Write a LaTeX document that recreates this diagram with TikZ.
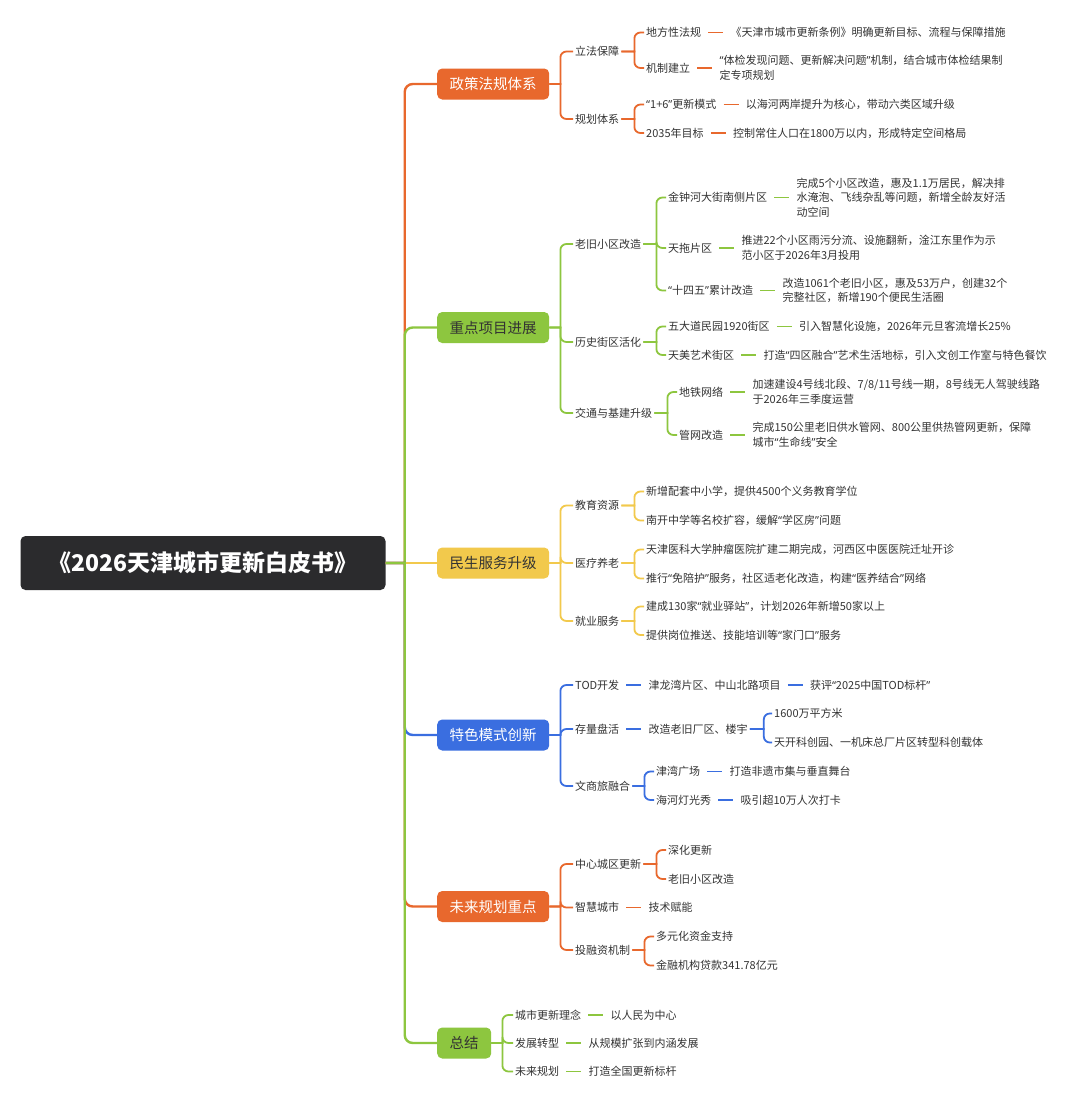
\documentclass[tikz,border=0pt]{standalone}
\usepackage{fontspec}
\setmainfont{Noto Sans CJK SC}
\newfontfamily\qfont{Noto Sans}
\usepackage{xcolor}
\usetikzlibrary{positioning}

\definecolor{rootdark}{HTML}{2B2B2D}
\definecolor{orangeC}{HTML}{E8682D}
\definecolor{greenC}{HTML}{8DC63F}
\definecolor{yellowC}{HTML}{F2C94C}
\definecolor{blueC}{HTML}{3A6EE0}
\definecolor{txt}{HTML}{333333}

% narrow quotes
\newcommand{\oq}{{\qfont “}}
\newcommand{\cq}{{\qfont ”}}

\begin{document}
\begin{tikzpicture}[x=1pt, y=-1pt,
    rootbox/.style={fill=rootdark, text=white, rounded corners=5pt, minimum width=365pt, minimum height=54pt, font=\fontsize{23}{27}\selectfont\bfseries},
    mainbox/.style={anchor=west, rounded corners=5pt, minimum height=31pt, inner xsep=12.5pt, font=\fontsize{14.5}{17}\selectfont},
    item/.style={anchor=west, inner xsep=2pt, inner ysep=1pt, text=txt, align=left, font=\fontsize{11}{14.5}\selectfont},
    trunk/.style={line width=2.4pt},
    twig/.style={line width=1.8pt},
    link/.style={line width=1.8pt, shorten <=5pt, shorten >=5pt},
    elbow/.style={to path={-- ++(#1,0) coordinate (ebend) [rounded corners=6pt] -- (ebend |- \tikztotarget) -- (\tikztotarget)}},
    bigelbow/.style={to path={-- ++(#1,0) coordinate (ebend) [rounded corners=8pt] -- (ebend |- \tikztotarget) -- (\tikztotarget)}}]

    \fill[white] (0,0) rectangle (1080,1104);
    \useasboundingbox (0,0) rectangle (1080,1104);

    % Root
    \node[rootbox] (root) at (203,563) {《2026天津城市更新白皮书》};

    % Main branches
    \node[mainbox, fill=orangeC, text=white] (zc) at (437,84) {政策法规体系};
    \node[mainbox, fill=greenC, text=txt] (zd) at (437,327.5) {重点项目进展};
    \node[mainbox, fill=yellowC, text=txt] (ms) at (437,563) {民生服务升级};
    \node[mainbox, fill=blueC, text=white] (ts) at (437,735) {特色模式创新};
    \node[mainbox, fill=orangeC, text=white] (wl) at (437,906.5) {未来规划重点};
    \node[mainbox, fill=greenC, text=txt] (zj) at (437,1043) {总结};

    % Policy
    \node[item] (lf) at (573,51.5) {立法保障};
    \node[item] (gh) at (573,119) {规划体系};
    \node[item] (dff) at (644,32.5) {地方性法规};
    \node[item, right=25pt of dff] (dffL) {《天津市城市更新条例》明确更新目标、流程与保障措施};
    \node[item] (jz) at (644,68) {机制建立};
    \node[item, right=25pt of jz] (jzL) {\oq 体检发现问题、更新解决问题\cq 机制，结合城市体检结果制\\定专项规划};
    \node[item] (ms16) at (644,104.5) {\oq 1+6\cq 更新模式};
    \node[item, right=25pt of ms16] (ms16L) {以海河两岸提升为核心，带动六类区域升级};
    \node[item] (mb) at (644,133) {2035年目标};
    \node[item, right=25pt of mb] (mbL) {控制常住人口在1800万以内，形成特定空间格局};

    % Key projects
    \node[item] (lj) at (573,244) {老旧小区改造};
    \node[item] (ls) at (573,342) {历史街区活化};
    \node[item] (jt) at (573,413) {交通与基建升级};
    \node[item] (jzh) at (666,197.5) {金钟河大街南侧片区};
    \node[item, right=25pt of jzh] (jzhL) {完成5个小区改造，惠及1.1万居民，解决排\\水淹泡、飞线杂乱等问题，新增全龄友好活\\动空间};
    \node[item] (tt) at (666,248) {天拖片区};
    \node[item, right=25pt of tt] (ttL) {推进22个小区雨污分流、设施翻新，淦江东里作为示\\范小区于2026年3月投用};
    \node[item] (sw) at (666,290.5) {\oq 十四五\cq 累计改造};
    \node[item, right=25pt of sw] (swL) {改造1061个老旧小区，惠及53万户，创建32个\\完整社区，新增190个便民生活圈};
    \node[item] (wdd) at (666,326.5) {五大道民园1920街区};
    \node[item, right=25pt of wdd] (wddL) {引入智慧化设施，2026年元旦客流增长25\%};
    \node[item] (tm) at (666,355) {天美艺术街区};
    \node[item, right=25pt of tm] (tmL) {打造\oq 四区融合\cq 艺术生活地标，引入文创工作室与特色餐饮};
    \node[item] (dt) at (677,392) {地铁网络};
    \node[item, right=25pt of dt] (dtL) {加速建设4号线北段、7/8/11号线一期，8号线无人驾驶线路\\于2026年三季度运营};
    \node[item] (gw) at (677,435) {管网改造};
    \node[item, right=25pt of gw] (gwL) {完成150公里老旧供水管网、800公里供热管网更新，保障\\城市\oq 生命线\cq 安全};

    % Public services
    \node[item] (jy) at (573,505.5) {教育资源};
    \node[item] (yl) at (573,563) {医疗养老};
    \node[item] (jyfw) at (573,621) {就业服务};
    \node[item] (jy1) at (644,491.5) {新增配套中小学，提供4500个义务教育学位};
    \node[item] (jy2) at (644,520.5) {南开中学等名校扩容，缓解\oq 学区房\cq 问题};
    \node[item] (yl1) at (644,549.5) {天津医科大学肿瘤医院扩建二期完成，河西区中医医院迁址开诊};
    \node[item] (yl2) at (644,578.5) {推行\oq 免陪护\cq 服务，社区适老化改造，构建\oq 医养结合\cq 网络};
    \node[item] (fw1) at (644,606.5) {建成130家\oq 就业驿站\cq ，计划2026年新增50家以上};
    \node[item] (fw2) at (644,635) {提供岗位推送、技能培训等\oq 家门口\cq 服务};

    % Model innovation
    \node[item] (tod) at (573,685) {TOD开发};
    \node[item] (cl) at (573,729) {存量盘活};
    \node[item] (ws) at (573,786) {文商旅融合};
    \node[item, right=25pt of tod] (jlw) {津龙湾片区、中山北路项目};
    \node[item, right=25pt of jlw] (hp) {获评\oq 2025中国TOD标杆\cq};
    \node[item, right=25pt of cl] (gz) {改造老旧厂区、楼宇};
    \node[item] (gz1) at (772,713.5) {1600万平方米};
    \node[item] (gz2) at (772,742.5) {天开科创园、一机床总厂片区转型科创载体};
    \node[item] (jw) at (654,771.5) {津湾广场};
    \node[item, right=25pt of jw] (jwL) {打造非遗市集与垂直舞台};
    \node[item] (hh) at (654,800) {海河灯光秀};
    \node[item, right=25pt of hh] (hhL) {吸引超10万人次打卡};

    % Future focus
    \node[item] (zx) at (573,864) {中心城区更新};
    \node[item] (zh) at (573,907.5) {智慧城市};
    \node[item] (tr) at (573,950) {投融资机制};
    \node[item] (sh) at (666,850) {深化更新};
    \node[item] (lx) at (666,879) {老旧小区改造};
    \node[item, right=25pt of zh] (js) {技术赋能};
    \node[item] (dy) at (654,936.5) {多元化资金支持};
    \node[item] (dk) at (654,965.5) {金融机构贷款341.78亿元};

    % Summary
    \node[item] (ln) at (513,1015) {城市更新理念};
    \node[item] (fz) at (513,1043) {发展转型};
    \node[item] (wg) at (513,1071.5) {未来规划};
    \node[item, right=25pt of ln] (lnL) {以人民为中心};
    \node[item, right=25pt of fz] (fzL) {从规模扩张到内涵发展};
    \node[item, right=25pt of wg] (wgL) {打造全国更新标杆};

    % Trunk
    \draw[trunk, orangeC] (root.east) to[bigelbow=19] (zc.west);
    \draw[trunk, greenC] (root.east) to[bigelbow=19] (zd.west);
    \draw[trunk, yellowC] (root.east) -- (ms.west);
    \draw[trunk, blueC] (root.east) to[bigelbow=19] (ts.west);
    \draw[trunk, orangeC] (root.east) to[bigelbow=19] (wl.west);
    \draw[trunk, greenC] (root.east) to[bigelbow=19] (zj.west);

    % Policy links
    \foreach \c in {lf,gh} \draw[twig, orangeC] (zc.east) to[elbow=11] (\c.west);
    \foreach \c in {dff,jz} \draw[twig, orangeC] (lf.east) to[elbow=13] (\c.west);
    \foreach \c in {ms16,mb} \draw[twig, orangeC] (gh.east) to[elbow=13] (\c.west);
    \foreach \a/\b in {dff/dffL,jz/jzL,ms16/ms16L,mb/mbL} \draw[link, orangeC] (\a.east) -- (\b.west);

    % Project links
    \foreach \c in {lj,ls,jt} \draw[twig, greenC] (zd.east) to[elbow=11] (\c.west);
    \foreach \c in {jzh,tt,sw} \draw[twig, greenC] (lj.east) to[elbow=13] (\c.west);
    \foreach \c in {wdd,tm} \draw[twig, greenC] (ls.east) to[elbow=13] (\c.west);
    \foreach \c in {dt,gw} \draw[twig, greenC] (jt.east) to[elbow=13] (\c.west);
    \foreach \a/\b in {jzh/jzhL,tt/ttL,sw/swL,wdd/wddL,tm/tmL,dt/dtL,gw/gwL} \draw[link, greenC] (\a.east) -- (\b.west);

    % Service links
    \foreach \c in {jy,yl,jyfw} \draw[twig, yellowC] (ms.east) to[elbow=11] (\c.west);
    \foreach \c in {jy1,jy2} \draw[twig, yellowC] (jy.east) to[elbow=13] (\c.west);
    \foreach \c in {yl1,yl2} \draw[twig, yellowC] (yl.east) to[elbow=13] (\c.west);
    \foreach \c in {fw1,fw2} \draw[twig, yellowC] (jyfw.east) to[elbow=13] (\c.west);

    % Innovation links
    \foreach \c in {tod,cl,ws} \draw[twig, blueC] (ts.east) to[elbow=11] (\c.west);
    \foreach \a/\b in {tod/jlw,jlw/hp,cl/gz,jw/jwL,hh/hhL} \draw[link, blueC] (\a.east) -- (\b.west);
    \foreach \c in {gz1,gz2} \draw[twig, blueC] (gz.east) to[elbow=14] (\c.west);
    \foreach \c in {jw,hh} \draw[twig, blueC] (ws.east) to[elbow=12] (\c.west);

    % Future links
    \foreach \c in {zx,zh,tr} \draw[twig, orangeC] (wl.east) to[elbow=11] (\c.west);
    \foreach \c in {sh,lx} \draw[twig, orangeC] (zx.east) to[elbow=13] (\c.west);
    \foreach \c in {dy,dk} \draw[twig, orangeC] (tr.east) to[elbow=12] (\c.west);
    \draw[link, orangeC] (zh.east) -- (js.west);

    % Summary links
    \foreach \c in {ln,fz,wg} \draw[twig, greenC] (zj.east) to[elbow=11] (\c.west);
    \foreach \a/\b in {ln/lnL,fz/fzL,wg/wgL} \draw[link, greenC] (\a.east) -- (\b.west);
\end{tikzpicture}
\end{document}
